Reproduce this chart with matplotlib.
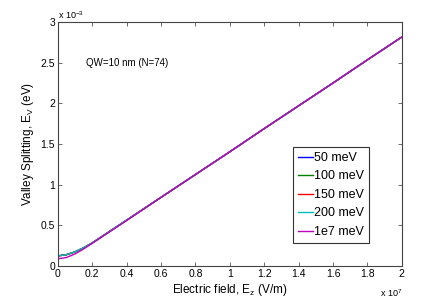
import numpy as np
import matplotlib
matplotlib.use('Agg')
import matplotlib.pyplot as plt

plt.rcParams['font.family'] = ['Liberation Sans', 'DejaVu Sans']
plt.rcParams['mathtext.default'] = 'regular'

# campo electrico en unidades de 1e7 V/m, splitting en 1e-3 eV
campo = [0, 0.05, 0.1, 0.15, 0.2, 0.3, 0.4, 0.6, 0.8, 1.0, 1.2, 1.4, 1.6, 1.8, 2.0]
ev_50 = [0.125, 0.14, 0.175, 0.225, 0.285, 0.425, 0.565, 0.845, 1.125, 1.405, 1.69, 1.97, 2.25, 2.535, 2.815]
ev_100 = [0.125, 0.14, 0.175, 0.225, 0.285, 0.425, 0.565, 0.845, 1.125, 1.405, 1.69, 1.97, 2.25, 2.535, 2.815]
ev_150 = [0.125, 0.14, 0.175, 0.225, 0.285, 0.425, 0.565, 0.845, 1.125, 1.405, 1.69, 1.97, 2.25, 2.535, 2.815]
ev_200 = [0.125, 0.14, 0.175, 0.225, 0.285, 0.425, 0.565, 0.845, 1.125, 1.405, 1.69, 1.97, 2.25, 2.535, 2.815]
ev_1e7 = [0.09, 0.105, 0.15, 0.21, 0.28, 0.42, 0.56, 0.845, 1.125, 1.405, 1.69, 1.97, 2.25, 2.535, 2.815]

series = [ev_50, ev_100, ev_150, ev_200, ev_1e7]
etiquetas = ['50 meV', '100 meV', '150 meV', '200 meV', '1e7 meV']
colores = [(0, 0, 1), (0, 0.5, 0), (1, 0, 0), (0, 0.75, 0.75), (0.75, 0, 0.75)]

fig = plt.figure(figsize=(4.45, 3.01), dpi=100)
ax = fig.add_axes([0.130, 0.116, 0.773, 0.811])

for ev, lab, col in zip(series, etiquetas, colores):
    ax.plot(campo, ev, color=col, lw=1.0, label=lab)

ax.set_xlim(0, 2)
ax.set_ylim(0, 3)
xt = np.arange(0, 2.01, 0.2)
yt = np.arange(0, 3.01, 0.5)
ax.set_xticks(xt)
ax.set_xticklabels(['%g' % v for v in xt])
ax.set_yticks(yt)
ax.set_yticklabels(['%g' % v for v in yt])
ax.tick_params(direction='in', top=True, right=True, labelsize=7.5,
               length=3, width=0.6, color='#555555', pad=2)
for s in ax.spines.values():
    s.set_color('#444444')
    s.set_linewidth(0.8)

ax.set_xlabel('Electric field, E$_z$ (V/m)', fontsize=8.5, labelpad=2)
ax.set_ylabel('Valley Splitting, E$_V$ (eV)', fontsize=8.5, labelpad=3)

ax.text(0.0, 1.003, r'x 10$^{-3}$', transform=ax.transAxes, fontsize=6.5, ha='left', va='bottom')
ax.text(1.0, -0.085, r'x 10$^{7}$', transform=ax.transAxes, fontsize=6.5, ha='right', va='top')
ax.text(0.163, 2.5, 'QW=10 nm (N=74)', fontsize=7, ha='left', va='center')

leg = ax.legend(loc='upper left', bbox_to_anchor=(0.684, 0.488), fontsize=9,
                handlelength=1.15, handletextpad=0.1, borderpad=0.4, labelspacing=0.52,
                fancybox=False, framealpha=1, borderaxespad=0)
leg.get_frame().set_edgecolor('#333333')
leg.get_frame().set_linewidth(0.8)

plt.savefig('out.png', dpi=100)
